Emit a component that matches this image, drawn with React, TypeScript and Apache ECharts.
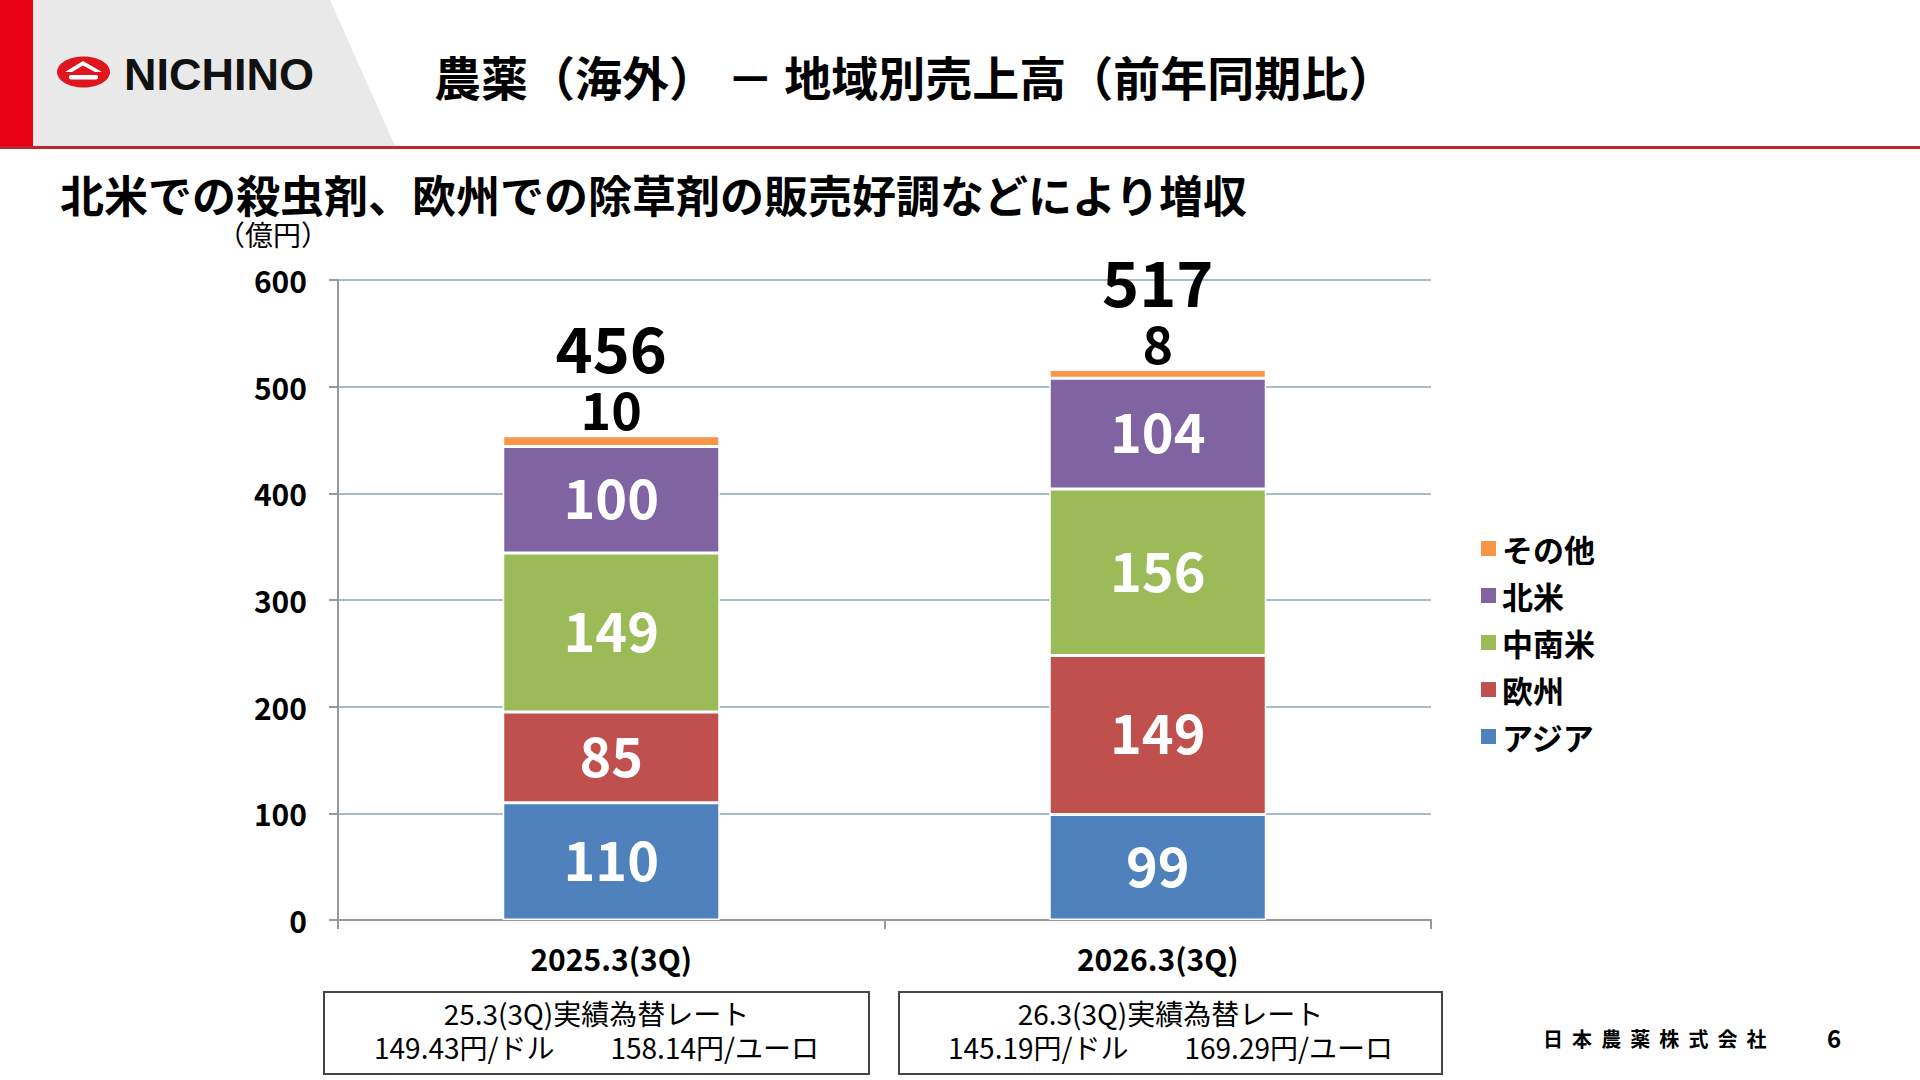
import React, { useEffect, useRef } from "react";
import * as echarts from "echarts";

const categories = ["2025.3(3Q)", "2026.3(3Q)"];
const asia = [110, 99];
const europe = [85, 149];
const latinAmerica = [149, 156];
const northAmerica = [100, 104];
const others = [10, 8];
const totals = [456, 517];
const seriesNames = ["アジア", "欧州", "中南米", "北米", "その他"];
const legendOrder = ["その他", "北米", "中南米", "欧州", "アジア"];
const yTicks = { min: 0, max: 600, interval: 100 };
const rateTitles = ["25.3(3Q)実績為替レート", "26.3(3Q)実績為替レート"];
const rateValues = ["149.43円/ドル　　158.14円/ユーロ", "145.19円/ドル　　169.29円/ユーロ"];

const FONT = '"Noto Sans CJK JP", "Noto Sans", sans-serif';
const COLORS = ["#4f81bd", "#c0504d", "#9bbb59", "#8064a2", "#f79646"];

export default function App() {
  const ref = useRef<HTMLDivElement>(null);
  useEffect(() => {
    if (!ref.current) return;
    const chart = echarts.init(ref.current, null, { renderer: "svg" });
    const data = [asia, europe, latinAmerica, northAmerica, others];
    const series: any[] = seriesNames.map((name, i) => {
      const isOther = i === 4;
      return {
        name,
        type: "bar",
        stack: "total",
        barWidth: 217,
        data: data[i],
        itemStyle: { color: COLORS[i], borderColor: "#ffffff", borderWidth: 1.5 },
        label: isOther
          ? {
              show: true,
              position: "top",
              distance: 2,
              formatter: (p: any) => `{t|${totals[p.dataIndex]}}\n{v|${p.value}}`,
              rich: {
                t: { fontSize: 63, fontWeight: "bold", color: "#000", lineHeight: 72, fontFamily: FONT },
                v: { fontSize: 52, fontWeight: "bold", color: "#000", lineHeight: 52, fontFamily: FONT },
              },
            }
          : {
              show: true,
              position: "inside",
              offset: [0, -4],
              color: "#ffffff",
              fontSize: 54,
              fontWeight: "bold",
              fontFamily: FONT,
            },
      };
    });

    const boxGraphics: any[] = [];
    const boxes = [
      { x: 324, w: 545 },
      { x: 899, w: 543 },
    ];
    boxes.forEach((b, i) => {
      boxGraphics.push({
        type: "rect",
        shape: { x: b.x, y: 992, width: b.w, height: 82 },
        style: { fill: "none", stroke: "#444", lineWidth: 2 },
      });
      boxGraphics.push({
        type: "text",
        x: b.x + b.w / 2,
        y: 1013,
        style: { text: rateTitles[i], fill: "#000", font: `28px ${FONT}`, textAlign: "center", textVerticalAlign: "middle" },
      });
      boxGraphics.push({
        type: "text",
        x: b.x + b.w / 2,
        y: 1047,
        style: { text: rateValues[i], fill: "#000", font: `28px ${FONT}`, textAlign: "center", textVerticalAlign: "middle" },
      });
    });

    chart.setOption({
      animation: false,
      backgroundColor: "#ffffff",
      textStyle: { fontFamily: FONT },
      grid: { left: 338, right: 489, top: 280, bottom: 160, containLabel: false },
      legend: {
        orient: "vertical",
        left: 1474,
        top: 528,
        data: legendOrder,
        icon: "rect",
        itemWidth: 17,
        itemHeight: 17,
        itemGap: 16,
        textStyle: { fontSize: 31, fontWeight: "bold", color: "#000", fontFamily: FONT },
      },
      xAxis: {
        type: "category",
        data: categories,
        axisLine: { show: true, lineStyle: { color: "#999", width: 2 } },
        axisTick: { show: true, alignWithLabel: false, length: 9, lineStyle: { color: "#999", width: 2 } },
        axisLabel: { fontSize: 30, fontWeight: "bold", color: "#000", margin: 23, fontFamily: FONT },
      },
      yAxis: {
        type: "value",
        min: yTicks.min,
        max: yTicks.max,
        interval: yTicks.interval,
        axisLine: { show: true, lineStyle: { color: "#999", width: 2 } },
        axisTick: { show: true, length: 9, lineStyle: { color: "#999", width: 2 } },
        axisLabel: { fontSize: 30, fontWeight: "bold", color: "#000", margin: 31, fontFamily: FONT },
        splitLine: { show: true, lineStyle: { color: "#8aa5b8", width: 1.5 } },
      },
      graphic: [
        { type: "rect", shape: { x: 0, y: 0, width: 33, height: 148 }, style: { fill: "#e60012" } },
        {
          type: "polygon",
          shape: { points: [[33, 0], [330, 0], [395, 146], [33, 146]] },
          style: { fill: "#e9e9e9" },
        },
        { type: "rect", shape: { x: 0, y: 146, width: 1920, height: 3 }, style: { fill: "#c0262e" } },
        { type: "ellipse", shape: { cx: 83.5, cy: 72, rx: 26.5, ry: 15.5 }, style: { fill: "#e0161e" } },
        {
          type: "polygon",
          shape: { points: [[65, 72], [83, 61], [102, 72], [95, 72], [83, 65.5], [72, 72]] },
          style: { fill: "#ffffff" },
        },
        { type: "rect", shape: { x: 69, y: 75, width: 29, height: 4.5, r: 2 }, style: { fill: "#ffffff" } },
        {
          type: "text",
          x: 124,
          y: 74,
          style: { text: "NICHINO", fill: "#111", font: 'bold 45px "Liberation Sans", Arial, sans-serif', textVerticalAlign: "middle" },
        },
        {
          type: "text",
          x: 434,
          y: 75,
          style: { text: "農薬（海外） － 地域別売上高（前年同期比）", fill: "#000", font: `bold 47px ${FONT}`, textVerticalAlign: "middle" },
        },
        {
          type: "text",
          x: 60,
          y: 194,
          style: { text: "北米での殺虫剤、欧州での除草剤の販売好調などにより増収", fill: "#000", font: `bold 44px ${FONT}`, textVerticalAlign: "middle" },
        },
        {
          type: "text",
          x: 273,
          y: 234,
          style: { text: "（億円）", fill: "#000", font: `28px ${FONT}`, textAlign: "center", textVerticalAlign: "middle" },
        },
        ...boxGraphics,
        {
          type: "text",
          x: 1543,
          y: 1038,
          style: { text: "日  本  農  薬  株  式  会  社", fill: "#000", font: `bold 20px ${FONT}`, textVerticalAlign: "middle" },
        },
        {
          type: "text",
          x: 1834,
          y: 1037,
          style: { text: "6", fill: "#000", font: `bold 24px ${FONT}`, textAlign: "center", textVerticalAlign: "middle" },
        },
      ],
      series,
    });
    return () => chart.dispose();
  }, []);
  return <div ref={ref} style={{ position: "fixed", left: 0, top: 0, width: 1920, height: 1080 }} />;
}
